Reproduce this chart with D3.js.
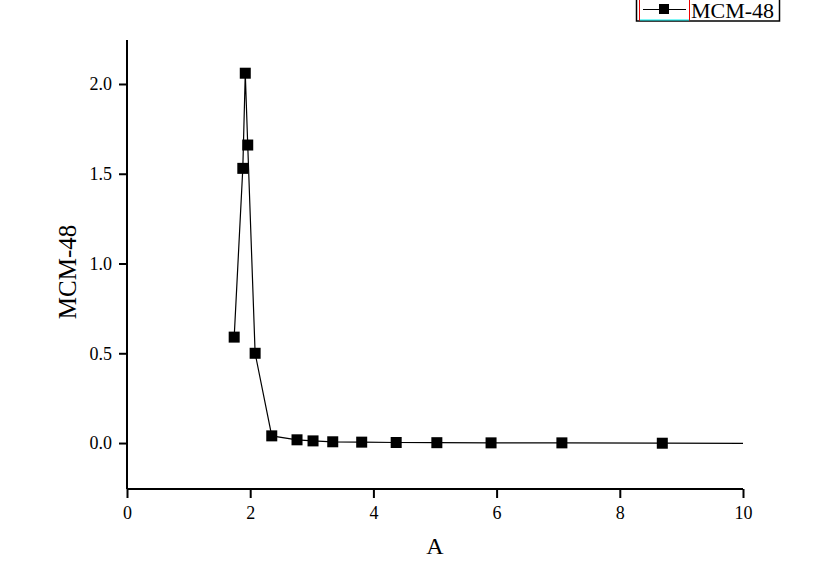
<!DOCTYPE html>
<html>
<head>
<meta charset="utf-8">
<script src="https://cdn.jsdelivr.net/npm/d3@7"></script>
<style>
  body { margin: 0; background: #fff; }
  text { font-family: "Liberation Serif", "Times New Roman", serif; fill: #000; }
  .tick text { font-size: 18px; }
</style>
</head>
<body>
<script>
// chart size matches the window
var width = 833,
    height = 578;

// data (A vs MCM-48)
var xValues = [1.74, 1.88, 1.92, 1.96, 2.08, 2.35, 2.76, 3.02, 3.34, 3.81, 4.37, 5.03, 5.91, 7.06, 8.69, 11.0];
var yValues = [0.59, 1.53, 2.06, 1.66, 0.50, 0.04, 0.018, 0.012, 0.007, 0.005, 0.003, 0.002, 0.001, 0.001, -0.001, -0.002];
var xTicks = [0, 2, 4, 6, 8, 10];
var yTicks = [0.0, 0.5, 1.0, 1.5, 2.0];
var seriesName = 'MCM-48';

var margin = { left: 127, right: 90, top: 40, bottom: 89 };

var x = d3.scaleLinear()
    .domain([0, 10])
    .range([margin.left, width - margin.right]);

var y = d3.scaleLinear()
    .domain([-0.256, 2.245])
    .range([height - margin.bottom, margin.top]);

var svg = d3.select('body')
    .append('svg')
    .attr('width', width)
    .attr('height', height);

// clip to the plot frame so the tail of the line stops at x = 10
svg.append('clipPath')
    .attr('id', 'plot')
  .append('rect')
    .attr('x', x(0))
    .attr('y', y(2.245))
    .attr('width', x(10) - x(0))
    .attr('height', y(-0.256) - y(2.245));

// x axis with minor ticks in between
var xAxis = svg.append('g')
    .attr('class', 'x')
    .attr('transform', 'translate(0,' + y(-0.256) + ')');
xAxis.call(d3.axisBottom(x).tickValues(d3.range(1, 10, 2)).tickSize(5).tickFormat(''));
xAxis.call(d3.axisBottom(x).tickValues(xTicks).tickSize(9).tickPadding(8).tickFormat(d3.format('d')));

// y axis
var yAxis = svg.append('g')
    .attr('class', 'y')
    .attr('transform', 'translate(' + x(0) + ',0)');
yAxis.call(d3.axisLeft(y).tickValues([-0.25, 0.25, 0.75, 1.25, 1.75, 2.25]).tickSize(4).tickFormat(''));
yAxis.call(d3.axisLeft(y).tickValues(yTicks).tickSize(8).tickPadding(7).tickFormat(d3.format('.1f')));

svg.selectAll('.x .domain').attr('d', 'M' + x(0) + ',0H' + x(10));
svg.selectAll('.y .domain').attr('d', 'M0,' + y(2.245) + 'V' + y(-0.256));
svg.selectAll('.domain').attr('stroke', '#000').attr('stroke-width', 2);
svg.selectAll('.tick line').attr('stroke', '#000').attr('stroke-width', 2);
svg.selectAll('g.x, g.y')
    .attr('font-family', '"Liberation Serif", serif')
    .attr('font-size', 18);

// axis titles
svg.append('text')
    .attr('x', (x(0) + x(10)) / 2)
    .attr('y', 554)
    .attr('text-anchor', 'middle')
    .style('font-size', '24px')
    .text('A');

svg.append('text')
    .attr('transform', 'translate(76,272) rotate(-90)')
    .attr('text-anchor', 'middle')
    .style('font-size', '25px')
    .text(seriesName);

// series
var points = xValues.map(function(d, i) { return [d, yValues[i]]; });

var line = d3.line()
    .x(function(d) { return x(d[0]); })
    .y(function(d) { return y(d[1]); });

var plot = svg.append('g').attr('clip-path', 'url(#plot)');

plot.append('path')
    .datum(points)
    .attr('d', line)
    .attr('fill', 'none')
    .attr('stroke', '#000')
    .attr('stroke-width', 1.2);

var size = 11;
plot.selectAll('rect.marker')
    .data(points)
    .enter().append('rect')
    .attr('class', 'marker')
    .attr('x', function(d) { return x(d[0]) - size / 2; })
    .attr('y', function(d) { return y(d[1]) - size / 2; })
    .attr('width', size)
    .attr('height', size)
    .attr('fill', '#000');

// legend box in the top right corner
var legend = svg.append('g');
legend.append('rect')
    .attr('x', 636.5).attr('y', -5)
    .attr('width', 143).attr('height', 26)
    .attr('fill', '#fff')
    .attr('stroke', '#000')
    .attr('stroke-width', 1.5);
legend.append('line')
    .attr('x1', 639.5).attr('x2', 639.5).attr('y1', 0).attr('y2', 20.5)
    .attr('stroke', '#e00');
legend.append('line')
    .attr('x1', 689.5).attr('x2', 689.5).attr('y1', 0).attr('y2', 20.5)
    .attr('stroke', '#e00');
legend.append('line')
    .attr('x1', 640).attr('x2', 689).attr('y1', 20).attr('y2', 20)
    .attr('stroke', '#0ee');
legend.append('line')
    .attr('x1', 643).attr('x2', 686).attr('y1', 9.5).attr('y2', 9.5)
    .attr('stroke', '#000')
    .attr('stroke-width', 1.2);
legend.append('rect')
    .attr('x', 659).attr('y', 4)
    .attr('width', 10).attr('height', 10)
    .attr('fill', '#000');
legend.append('text')
    .attr('x', 691)
    .attr('y', 18)
    .style('font-size', '22px')
    .text(seriesName);
</script>
</body>
</html>
